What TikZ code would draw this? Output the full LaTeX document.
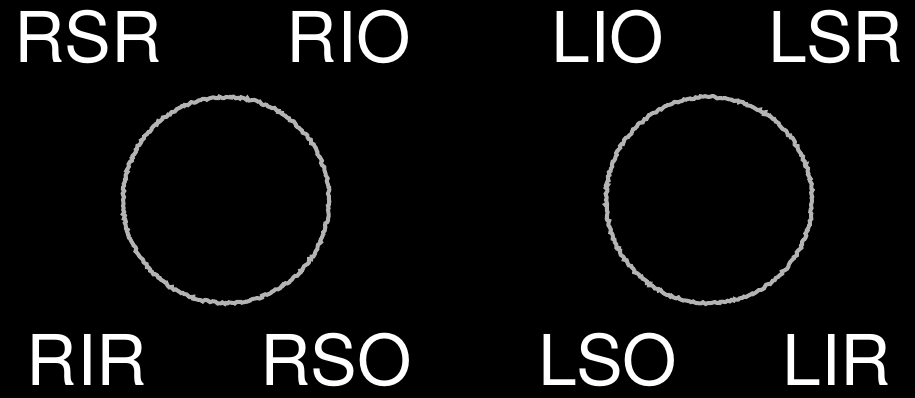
\documentclass[tikz,border=0pt]{standalone}
\usepackage{fontspec}
\setmainfont{TeX Gyre Heros}
\usepackage{tikz}
\usetikzlibrary{
  positioning,
  calc,
  decorations.pathmorphing
}
\definecolor{eyeBg}{HTML}{000000}
\definecolor{eyeRing}{HTML}{B4B4B4}
\tikzset{
  musclelabel/.style={
    text=white, anchor=base, inner sep=0pt,
    font=\fontsize{70}{70}\selectfont
  },
  eyering/.style={
    draw=eyeRing, line width=4pt,
    decorate, decoration={random steps, segment length=2pt, amplitude=1.1pt}
  }
}

\begin{document}
\begin{tikzpicture}[x=1pt, y=-1pt]
  \fill[eyeBg] (0,0) rectangle (915,398);
  \useasboundingbox (0,0) rectangle (915,398);
  % right eye
  \draw[eyering] (226,200) circle (103);
  \node[musclelabel] (rsr) at (88,63) {RSR};
  \node[musclelabel] (rio) at (349,63) {RIO};
  \node[musclelabel] (rir) at (87,385) {RIR};
  \node[musclelabel] (rso) at (336,385) {RSO};
  % left eye
  \draw[eyering] (709,200) circle (103);
  \node[musclelabel] (lio) at (608,63) {LIO};
  \node[musclelabel] (lsr) at (836,63) {LSR};
  \node[musclelabel] (lso) at (608,385) {LSO};
  \node[musclelabel] (lir) at (837,385) {LIR};
\end{tikzpicture}
\end{document}
